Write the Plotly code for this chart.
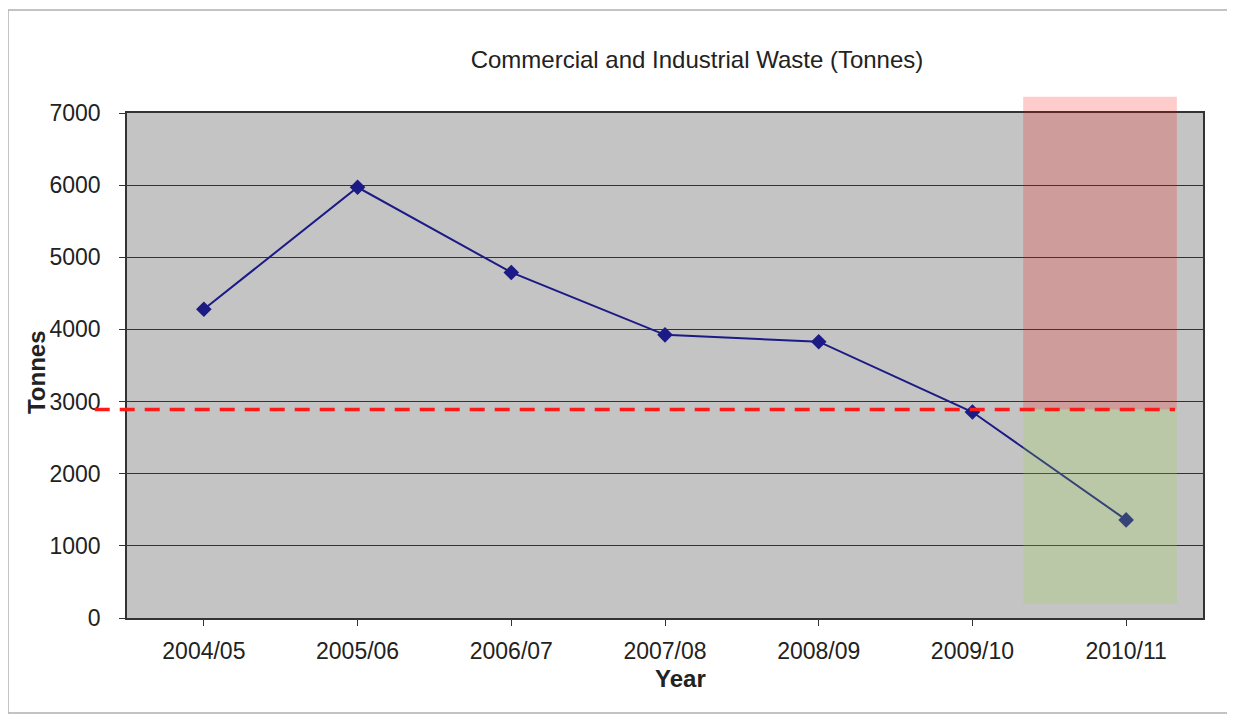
import plotly.graph_objects as go

years = ["2004/05", "2005/06", "2006/07", "2007/08", "2008/09", "2009/10", "2010/11"]
tonnes = [4280, 5970, 4790, 3925, 3830, 2855, 1360]
target = 2890
y_ticks = [0, 1000, 2000, 3000, 4000, 5000, 6000, 7000]
y_max = 7000
band_x = [5.33, 6.33]
green_bottom = 200

fig = go.Figure()
fig.add_trace(go.Scatter(
    x=list(range(len(years))), y=tonnes, mode="lines+markers",
    line=dict(color="#1c1a85", width=2),
    marker=dict(symbol="diamond", size=12, color="#1c1a85"),
    showlegend=False, hoverinfo="skip"))

# red (above target) band, extends slightly above plot area
fig.add_shape(type="rect", xref="x", yref="paper",
              x0=band_x[0], x1=band_x[1], y0=target / y_max, y1=1.032,
              fillcolor="rgba(255,0,0,0.2)", line_width=0, layer="above")
# green (below target) band
fig.add_shape(type="rect", xref="x", yref="y",
              x0=band_x[0], x1=band_x[1], y0=green_bottom, y1=target,
              fillcolor="rgba(150,215,70,0.22)", line_width=0, layer="above")
# target dashed line
fig.add_shape(type="line", xref="paper", yref="paper",
              x0=-0.03, x1=0.974, y0=target / y_max, y1=target / y_max,
              line=dict(color="#ff1a1a", width=3.5, dash="15px,10px"), layer="above")
# outer frame
fig.add_shape(type="rect", xref="paper", yref="paper",
              x0=-0.1106, x1=1.0233, y0=-0.188, y1=1.204,
              line=dict(color="#b0b0b0", width=1.5), fillcolor="rgba(0,0,0,0)")

fig.update_layout(
    width=1235, height=715,
    margin=dict(l=119, r=40, t=105, b=105),
    paper_bgcolor="white", plot_bgcolor="#c4c4c4",
    font=dict(family="Liberation Sans, Arial, sans-serif", color="#222222"),
    title=dict(text="Commercial and Industrial Waste (Tonnes)", x=689 / 1235, xanchor="center",
               y=1 - 52 / 715, yanchor="middle", font=dict(size=24, color="#222222")),
    xaxis=dict(tickmode="array", tickvals=list(range(len(years))), ticktext=years,
               range=[-0.5, len(years) - 0.5], tickson="boundaries", ticks="outside",
               ticklen=6, tickcolor="#333333", showgrid=False, showline=True,
               linecolor="#333333", linewidth=1.5, mirror=True,
               tickfont=dict(size=23, color="#222222"), ticklabelstandoff=6, zeroline=False),
    yaxis=dict(tickmode="array", tickvals=y_ticks, range=[0, y_max], ticks="outside",
               ticklen=6, tickcolor="#333333", showgrid=True, gridcolor="#333333",
               gridwidth=1.3, showline=True, linecolor="#333333", linewidth=1.5, mirror=True,
               tickfont=dict(size=23, color="#222222"), ticklabelstandoff=14, zeroline=False),
    annotations=[
        dict(text="<b>Year</b>", xref="paper", yref="paper", x=0.514, y=-0.12,
             showarrow=False, font=dict(size=24, color="#222222"), yanchor="middle"),
        dict(text="<b>Tonnes</b>", xref="paper", yref="paper", x=-0.0846, y=0.487,
             showarrow=False, textangle=-90, font=dict(size=24, color="#222222"),
             xanchor="center", yanchor="middle"),
    ],
)

fig.write_html("out.html")
